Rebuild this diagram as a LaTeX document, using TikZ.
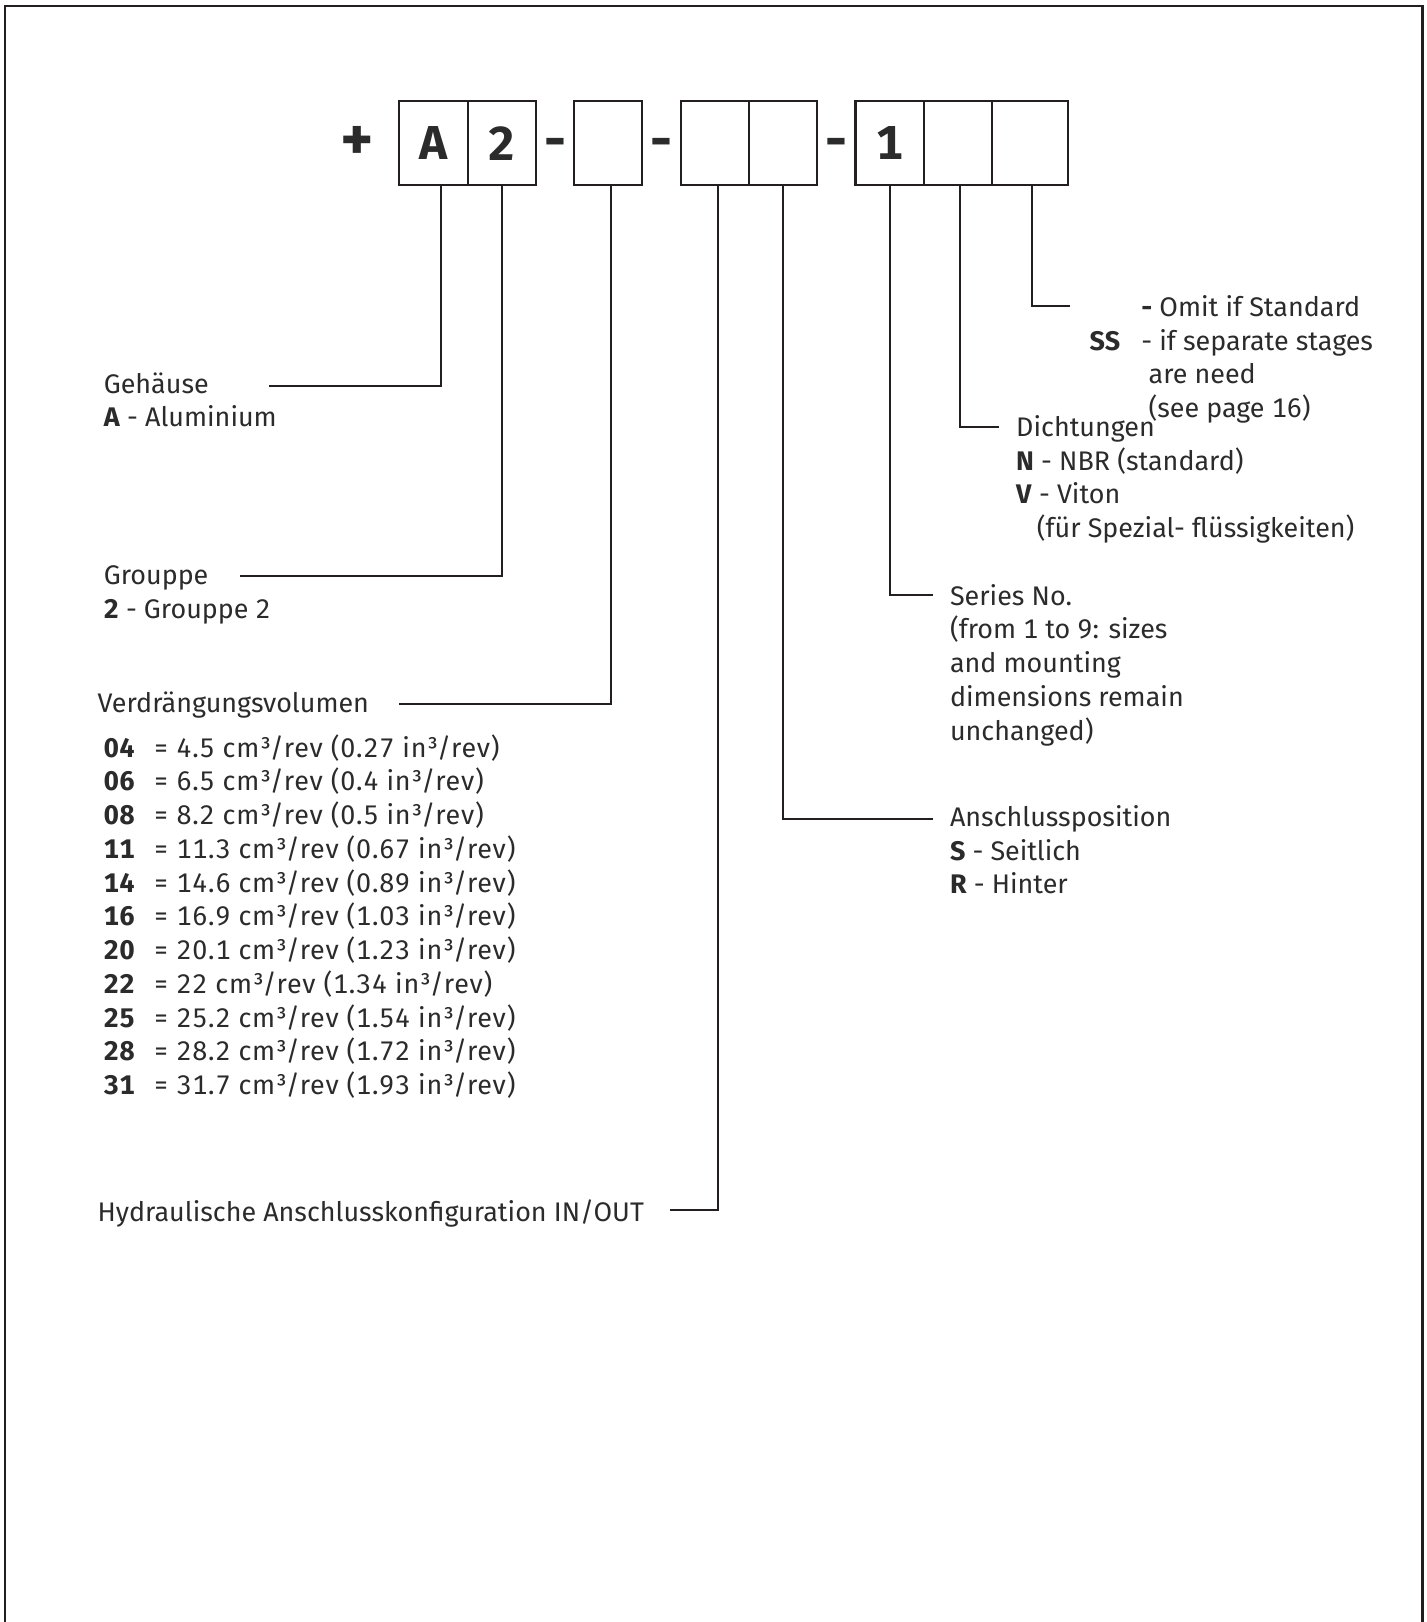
\documentclass[tikz,border=0pt]{standalone}
\usepackage{fontspec}
\setmainfont{Fira Sans}[Numbers=Monospaced]
\usepackage{tikz}
\usetikzlibrary{positioning}
\definecolor{inktext}{HTML}{2B2B2B}
\definecolor{inkline}{HTML}{231F20}

\begin{document}
\begin{tikzpicture}[x=0.5pt,y=-0.5pt,
  node distance=0pt,
  codebox/.style={draw=inkline,line width=1pt,minimum width=33pt,minimum height=40.5pt,
    inner sep=0pt,outer sep=0pt,font=\fontsize{23}{23}\selectfont\bfseries,text=inktext},
  sepmark/.style={minimum width=18.5pt,inner sep=0pt,outer sep=0pt,text height=15pt,text depth=0pt,
    font=\fontsize{26}{26}\selectfont\bfseries,text=inktext},
  conn/.style={draw=inkline,line width=1pt},
  lab/.style={font=\fontsize{13}{16.3}\selectfont,text=inktext,align=left,inner sep=0pt,anchor=base west}]
\useasboundingbox (0,0) rectangle (1379,1568);
% frame
\draw[inkline,line width=1.25pt] (5,1568) |- (1375,6) -- (1375,1568);

% code boxes
\node[codebox] (bA) at (419,138.5) {A};
\node[codebox,right=of bA] (b2) {2};
\node[sepmark,right=of b2] (d1) {-};
\node[codebox,right=of d1] (b3) {};
\node[sepmark,right=of b3] (d2) {-};
\node[codebox,right=of d2] (b4) {};
\node[codebox,right=of b4] (b5) {};
\node[sepmark,right=of b5] (d3) {-};
\node[codebox,right=of d3] (b6) {1};
\node[codebox,right=of b6] (b7) {};
\node[codebox,right=of b7,minimum width=36.5pt] (b8) {};
\node[font=\fontsize{30}{30}\selectfont\bfseries,text=inktext,inner sep=0pt,left=12pt of bA] (plus) {+};

% free ends of the leaders
\coordinate (eGeh) at (260,373);
\coordinate (eGrp) at (232,557);
\coordinate (eVol) at (386,681);
\coordinate (eHyd) at (648,1170);
\coordinate (eAns) at (902,792);
\coordinate (eSer) at (902,575);
\coordinate (eDic) at (966,413);
\coordinate (eSS) at (1034,296);

\draw[conn] ([xshift=3.5pt]bA.south) |- (eGeh);
\draw[conn] (b2.south) |- (eGrp);
\draw[conn] ([xshift=1.5pt]b3.south) |- (eVol);
\draw[conn] ([xshift=1.5pt]b4.south) |- (eHyd);
\draw[conn] (b5.south) |- (eAns);
\draw[conn] (b6.south) |- (eSer);
\draw[conn] ([xshift=1pt]b7.south) |- (eDic);
\draw[conn] ([xshift=1pt]b8.south) |- (eSS);

% labels (base = baseline of the last line)
\node[lab] (lGeh) at (100,412.6) {Gehäuse\\\textbf{A} - Aluminium};
\node[lab] (lGrp) at (100,597.6) {Grouppe\\\textbf{2} - Grouppe 2};
\node[lab] (lVol) at (94,689) {Verdrängungsvolumen};
\node[lab,font=\fontsize{13}{16.3}\selectfont\addfontfeatures{LetterSpace=3}] (lList) at (100,1058) {%
\makebox[24pt][l]{\textbf{04}}= 4.5 cm³/rev (0.27 in³/rev)\\
\makebox[24pt][l]{\textbf{06}}= 6.5 cm³/rev (0.4 in³/rev)\\
\makebox[24pt][l]{\textbf{08}}= 8.2 cm³/rev (0.5 in³/rev)\\
\makebox[24pt][l]{\textbf{11}}= 11.3 cm³/rev (0.67 in³/rev)\\
\makebox[24pt][l]{\textbf{14}}= 14.6 cm³/rev (0.89 in³/rev)\\
\makebox[24pt][l]{\textbf{16}}= 16.9 cm³/rev (1.03 in³/rev)\\
\makebox[24pt][l]{\textbf{20}}= 20.1 cm³/rev (1.23 in³/rev)\\
\makebox[24pt][l]{\textbf{22}}= 22 cm³/rev (1.34 in³/rev)\\
\makebox[24pt][l]{\textbf{25}}= 25.2 cm³/rev (1.54 in³/rev)\\
\makebox[24pt][l]{\textbf{28}}= 28.2 cm³/rev (1.72 in³/rev)\\
\makebox[24pt][l]{\textbf{31}}= 31.7 cm³/rev (1.93 in³/rev)};
\node[lab] (lHyd) at (94,1181) {Hydraulische Anschlusskonfiguration IN/OUT};
\node[lab] (lAns) at (918,864.2) {Anschlussposition\\\textbf{S} - Seitlich\\\textbf{R} - Hinter};
\node[lab] (lSer) at (918,715.4) {Series No.\\(from 1 to 9: sizes\\and mounting\\dimensions remain\\unchanged)};
\node[lab] (lDic) at (982,519.8) {Dichtungen\\\textbf{N} - NBR (standard)\\\textbf{V} - Viton\\\hspace*{10pt}(für Spezial- flüssigkeiten)};
\node[lab] (lSS) at (1053,403.8) {%
\makebox[25pt][l]{}\textbf{-} Omit if Standard\\
\makebox[25pt][l]{\textbf{SS}}- if separate stages\\
\hspace*{28.5pt}are need\\
\hspace*{28.5pt}(see page 16)};
\end{tikzpicture}
\end{document}
